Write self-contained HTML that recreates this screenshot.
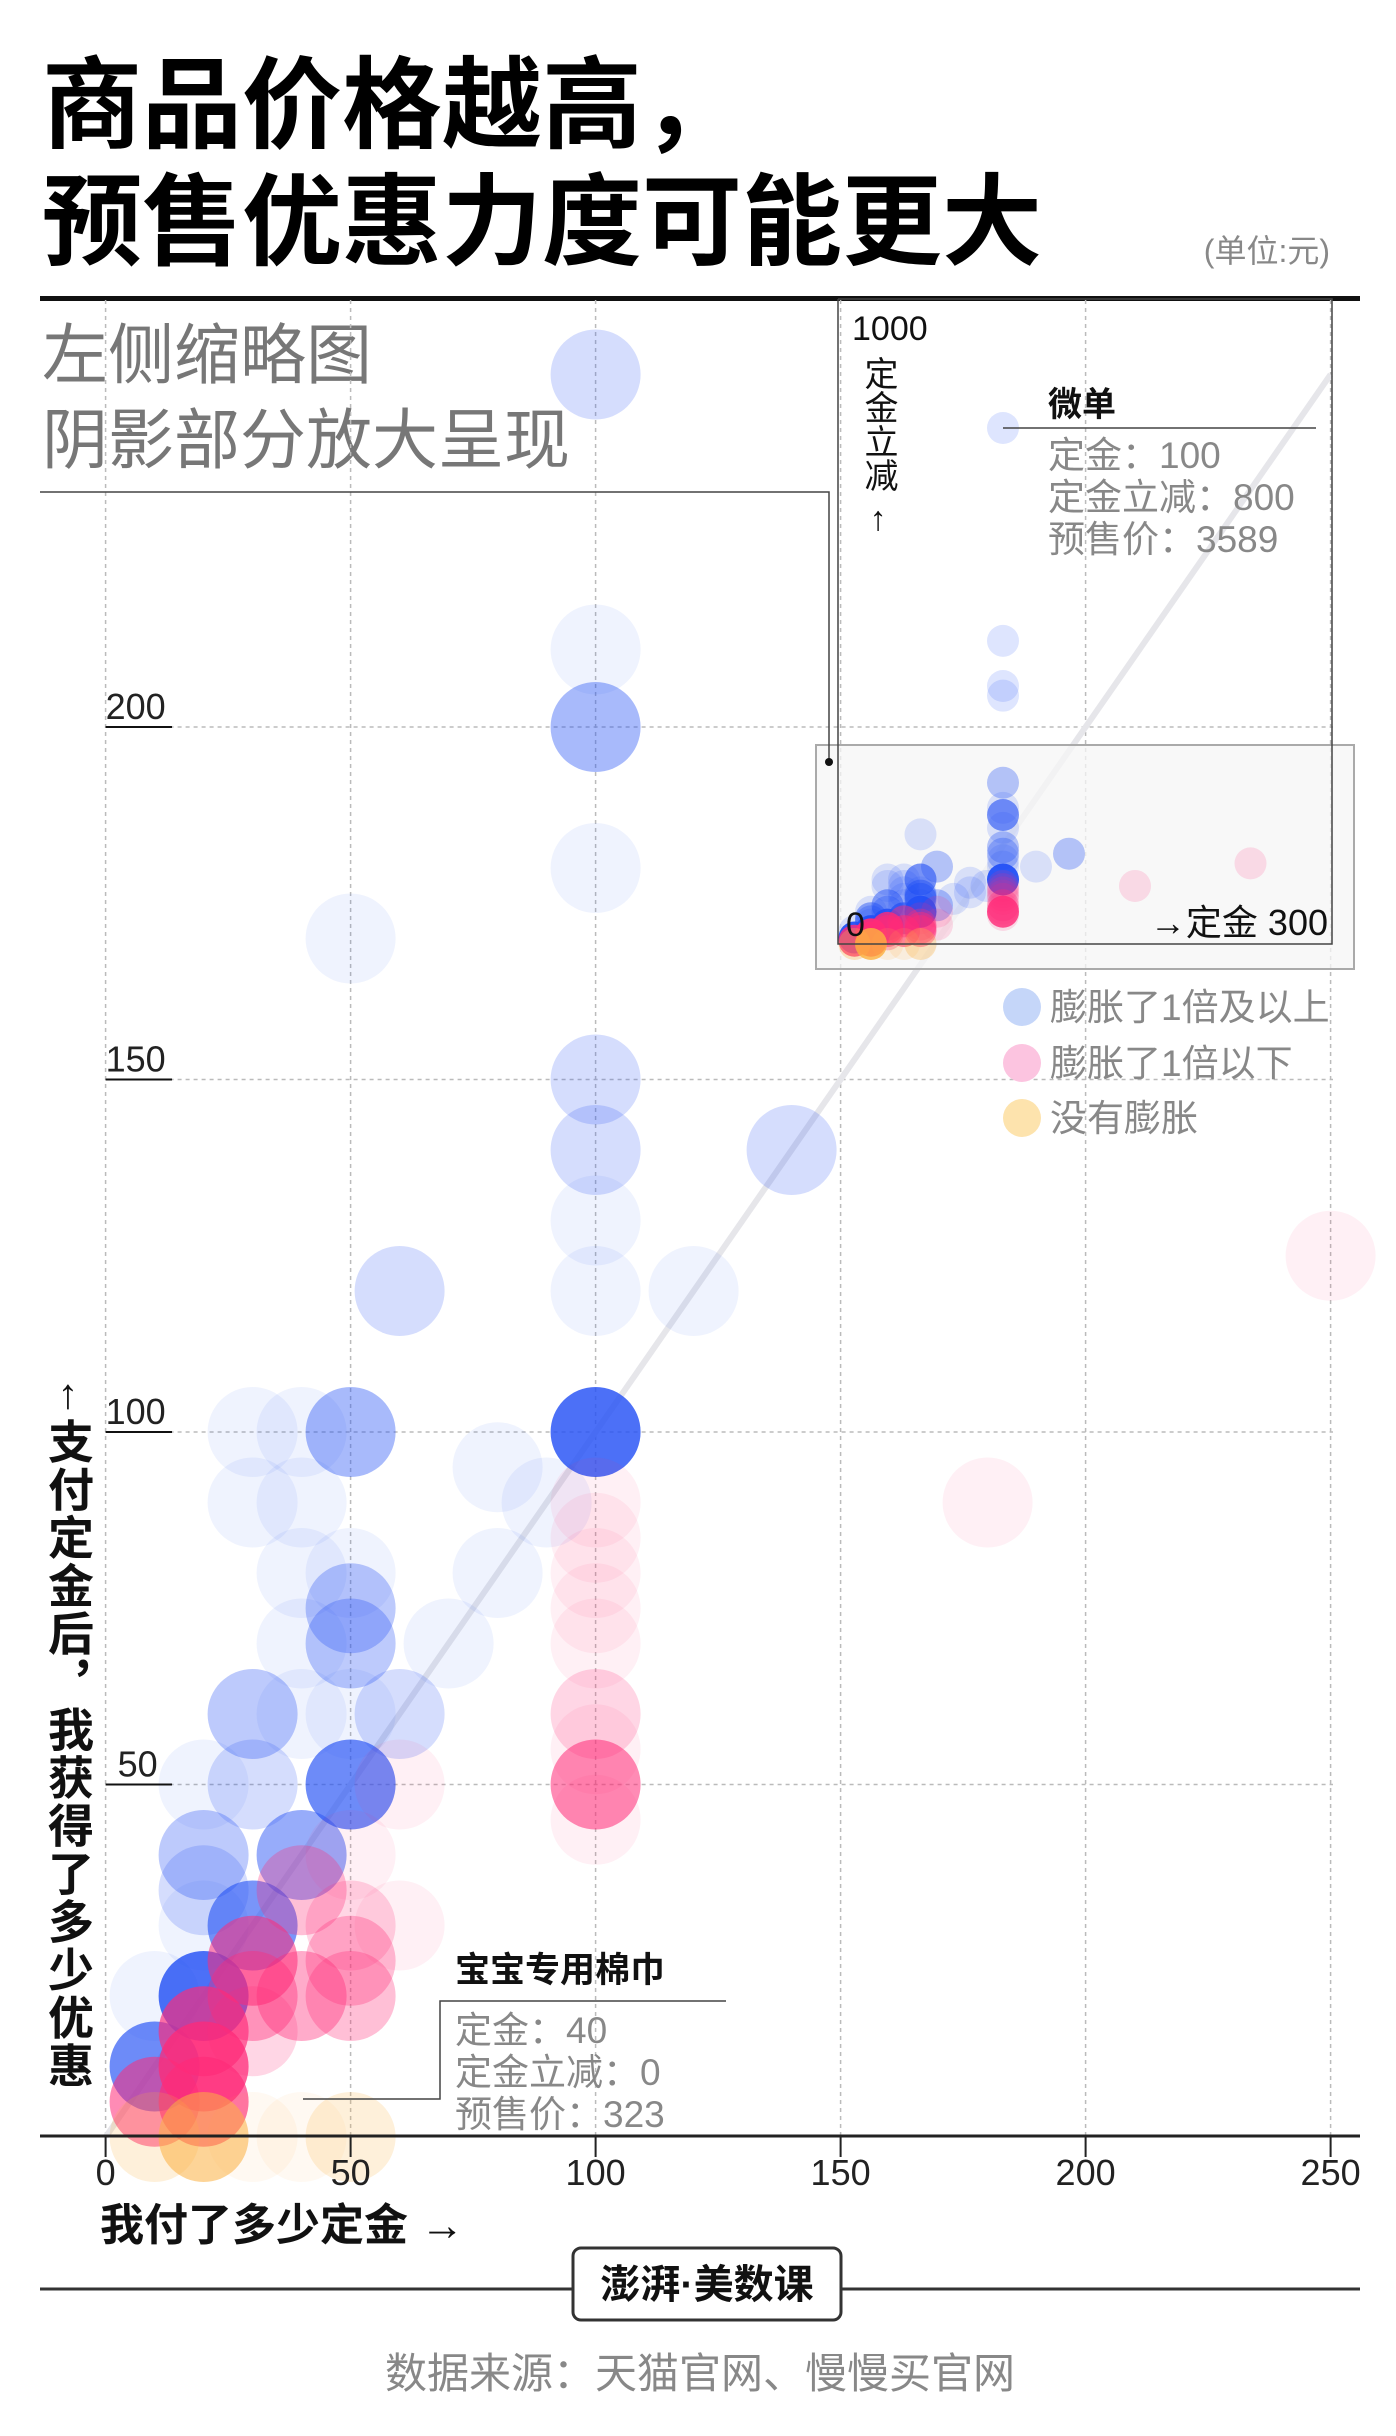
<!DOCTYPE html>
<html><head><meta charset="utf-8">
<style>
html,body{margin:0;padding:0;background:#fff;}
svg{display:block;}
text{font-family:"Liberation Sans","Noto Sans CJK SC",sans-serif;}
</style></head>
<body>
<svg id="chart" width="1396" height="2436" viewBox="0 0 1396 2436" xmlns="http://www.w3.org/2000/svg">
<g>
<text x="42" y="140" font-size="100" font-weight="bold" fill="#000">商品价格越高，</text>
<text x="42" y="257" font-size="100" font-weight="bold" fill="#000">预售优惠力度可能更大</text>
<text x="1330" y="262" font-size="32" fill="#888" text-anchor="end">(单位:元)</text>
<rect x="40" y="296" width="1320" height="5" fill="#111"/>
<text x="42" y="378" font-size="66" fill="#777">左侧缩略图</text>
<text x="42" y="463" font-size="66" fill="#777">阴影部分放大呈现</text>
</g>
<g id="grid"></g>
<line id="diag" stroke="#e6e6ea" stroke-width="6"/>
<rect x="816" y="745" width="538" height="224" fill="#f6f6f6" fill-opacity="0.75" stroke="#aaa" stroke-width="2"/>
<g id="main-points"></g>
<g id="inset"></g>
<g id="axes"></g>
<polyline points="40,492 829,492 829,762" fill="none" stroke="#444" stroke-width="1.5"/>
<circle cx="829" cy="762" r="4" fill="#111"/>
<g>
<circle cx="1022" cy="1007" r="19" fill="#c5d6f9"/>
<text x="1050" y="1020" font-size="37" fill="#888">膨胀了1倍及以上</text>
<circle cx="1022" cy="1063" r="19" fill="#fcc4e0"/>
<text x="1050" y="1076" font-size="37" fill="#888">膨胀了1倍以下</text>
<circle cx="1022" cy="1118" r="19" fill="#fde3ad"/>
<text x="1050" y="1131" font-size="37" fill="#888">没有膨胀</text>
</g>
<g>
<text x="1048" y="416" font-size="34" font-weight="bold" fill="#111">微单</text>
<line x1="1003" y1="428" x2="1316" y2="428" stroke="#444" stroke-width="1.5"/>
<text x="1048" y="468" font-size="37" fill="#888">定金：100</text>
<text x="1048" y="510" font-size="37" fill="#888">定金立减：800</text>
<text x="1048" y="552" font-size="37" fill="#888">预售价：3589</text>
</g>
<g>
<text x="455" y="1982" font-size="35" font-weight="bold" fill="#111">宝宝专用棉巾</text>
<polyline points="726,2001 440,2001 440,2099 303,2099" fill="none" stroke="#444" stroke-width="1.5"/>
<text x="455" y="2043" font-size="37" fill="#888">定金：40</text>
<text x="455" y="2085" font-size="37" fill="#888">定金立减：0</text>
<text x="455" y="2127" font-size="37" fill="#888">预售价：323</text>
</g>
<text x="68" y="1408" font-size="42" fill="#111" text-anchor="middle">↑</text>
<text x="68" y="1418" font-size="46" font-weight="bold" fill="#111" writing-mode="tb" glyph-orientation-vertical="0" letter-spacing="2">支付定金后，我获得了多少优惠</text>
<text x="100" y="2240" font-size="44" font-weight="bold" fill="#111">我付了多少定金 →</text>
<g>
<line x1="40" y1="2289" x2="573" y2="2289" stroke="#333" stroke-width="3"/>
<line x1="841" y1="2289" x2="1360" y2="2289" stroke="#333" stroke-width="3"/>
<rect x="573" y="2248" width="268" height="72" rx="8" fill="#fff" stroke="#333" stroke-width="3"/>
<text x="707" y="2298" font-size="40" font-weight="bold" fill="#111" text-anchor="middle">澎湃·美数课</text>
<text x="700" y="2388" font-size="42" fill="#888" text-anchor="middle">数据来源：天猫官网、慢慢买官网</text>
</g>
</svg>
<script>
const NS = "http://www.w3.org/2000/svg";
// data: deposit (x), discount (y), category, overlap count
const deposits  = [100,100,100,100,50,100,100,100,100,140,120,60,100,50,30,40,80,90,30,40,40,50,80,50,50,40,70,30,40,50,60,50,30,20,20,40,20,30,20,20,10,10,100,100,100,100,
                   250,180,100,100,100,100,100,100,100,100,100,60,50,40,50,60,50,50,40,30,30,30,20,20,10,20,
                   10,20,30,40,50];
const discounts = [250,211,200,180,170,150,140,130,120,140,120,120,100,100,100,100,95,90,90,90,80,80,80,75,70,70,70,60,60,60,60,50,50,50,40,40,35,30,30,20,20,10,800,470,400,385,
                   125,90,90,85,80,75,70,60,55,50,45,50,40,35,30,30,25,20,20,25,20,15,15,10,5,5,
                   0,0,0,0,0];
const categories= ["b","b","b","b","b","b","b","b","b","b","b","b","b","b","b","b","b","b","b","b","b","b","b","b","b","b","b","b","b","b","b","b","b","b","b","b","b","b","b","b","b","b","b","b","b","b",
                   "p","p","p","p","p","p","p","p","p","p","p","p","p","p","p","p","p","p","p","p","p","p","p","p","p","p",
                   "y","y","y","y","y"];
const counts    = [2,1,4,1,1,2,2,1,1,2,1,2,12,4,1,1,1,1,1,1,1,1,1,3,3,1,1,3,1,1,2,8,2,1,3,5,2,7,1,12,1,8,1,1,1,1,
                   1,1,1,1,1,1,1,2,1,6,1,1,1,3,2,1,3,3,4,6,4,2,8,10,6,8,
                   2,6,1,1,2];
const xTicks = [0,50,100,150,200,250];
const yTicks = [50,100,150,200];

const colors = {b:"#2350f5", p:"#ff2a78", y:"#fcb040"};
const X = v => 105.6 + 4.9*v;
const Y = v => 2137 - 7.05*v;
const IX = v => 838 + 1.65*v;
const IY = v => 944 - 0.645*v;
const op = n => Math.min(0.92, 0.07 + (1 - Math.pow(0.87, n - 1)) * 0.95);

const grid = document.getElementById('grid');
const axes = document.getElementById('axes');
function mk(tag, attrs, parent){const e=document.createElementNS(NS,tag);for(const k in attrs)e.setAttribute(k,attrs[k]);parent.appendChild(e);return e;}

xTicks.forEach(t=>{
  if(t>0){
    const g = mk('line',{x1:X(t),x2:X(t),y1:300,y2:2137,stroke:"#bbb","stroke-width":1.5,"stroke-dasharray":"4 4"},grid);
    
    
  }
  const tk = mk('line',{x1:X(t),x2:X(t),y1:2135,y2:2157,stroke:"#222","stroke-width":2},axes);
  
  
  const lb = mk('text',{x:X(t),y:2185,"font-size":36,fill:"#222","text-anchor":"middle"},axes);
  lb.textContent = t;
  
  
});
const v0 = mk('line',{x1:X(0),x2:X(0),y1:300,y2:2137,stroke:"#bbb","stroke-width":1.5,"stroke-dasharray":"4 4"},grid);


yTicks.forEach(t=>{
  const g = mk('line',{x1:X(0),x2:1333,y1:Y(t),y2:Y(t),stroke:"#bbb","stroke-width":1.5,"stroke-dasharray":"4 4"},grid);
  
  
  const u = mk('line',{x1:X(0),x2:172,y1:Y(t),y2:Y(t),stroke:"#111","stroke-width":2},axes);
  
  
  const lb = mk('text',{x:t>=100?X(0):X(0)+12,y:Y(t)-8,"font-size":36,fill:"#222"},axes);
  lb.textContent = t;
  
  
});
const ax = mk('line',{x1:40,x2:1360,y1:2136,y2:2136,stroke:"#222","stroke-width":3},axes);



const d = document.getElementById('diag');
d.setAttribute('x1',X(0));d.setAttribute('y1',Y(0));d.setAttribute('x2',X(250));d.setAttribute('y2',Y(250));

const mp = document.getElementById('main-points');
const inset = document.getElementById('inset');
["b","p","y"].forEach(cat=>{
  deposits.forEach((dx,i)=>{
    if(categories[i]!==cat) return;
    const dy = discounts[i];
    if(dy<=260){
      const c = mk('circle',{cx:X(dx),cy:Y(dy),r:45,fill:colors[cat],"fill-opacity":op(counts[i])},mp);
      
      
    }
    const ic = mk('circle',{cx:IX(dx),cy:IY(dy),r:16,fill:colors[cat],"fill-opacity":Math.min(0.95,op(counts[i])*1.4+0.05)},inset);
    
    
  });
});
// inset frame & labels
const fr = mk('polyline',{points:"838,299 1332,299 1332,944 838,944 838,299",fill:"none",stroke:"#444","stroke-width":1.5},inset);


const t1 = mk('text',{x:852,y:340,"font-size":34,fill:"#111"},inset);
t1.textContent='1000';


const t2 = mk('text',{x:878,y:356,"font-size":34,fill:"#111","writing-mode":"tb","glyph-orientation-vertical":"0"},inset);
t2.textContent='定金立减';


const t2b = mk('text',{x:878,y:530,"font-size":34,fill:"#111","text-anchor":"middle"},inset);
t2b.textContent='↑';


const t3 = mk('text',{x:846,y:936,"font-size":34,fill:"#111"},inset);
t3.textContent='0';


const t4 = mk('text',{x:1328,y:935,"font-size":36,fill:"#111","text-anchor":"end"},inset);
t4.textContent='→定金 300';


</script>
</body></html>
